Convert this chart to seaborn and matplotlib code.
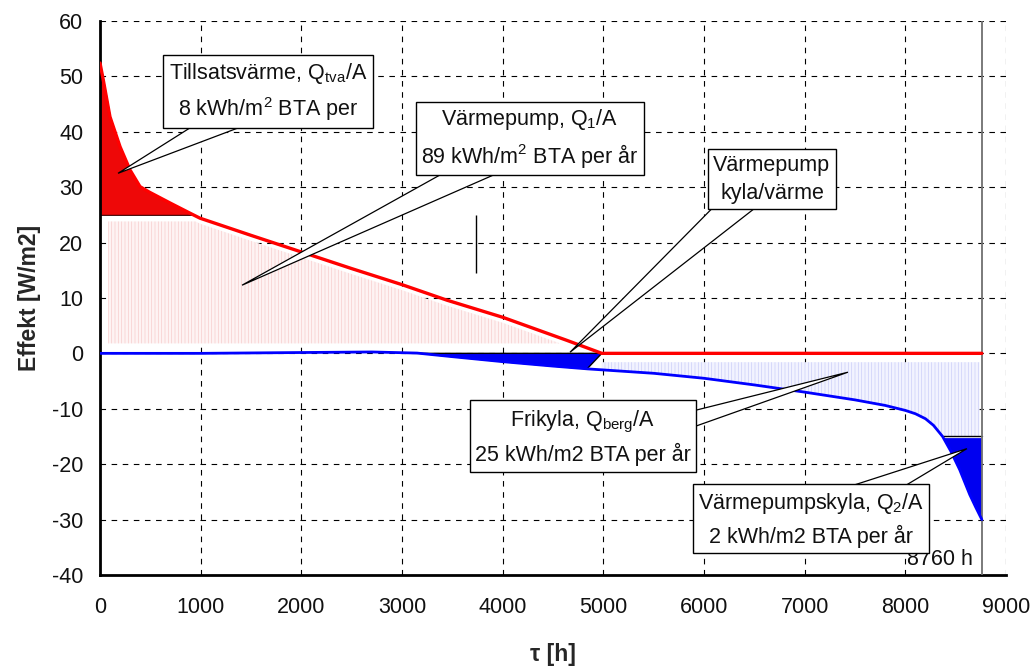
import numpy as np
import pandas as pd
import matplotlib
matplotlib.use("Agg")
import matplotlib.pyplot as plt
import seaborn as sns

# Heating power duration curve (W/m2) vs. hours of the year
heat_hours = [0, 33, 99, 199, 298, 397, 490, 700, 894, 993, 1500, 2000, 2500,
              3000, 3446, 4002, 4637, 4985, 8760]
heat_power = [52.4, 49.3, 42.7, 37.3, 33.1, 30.1, 29.1, 27.1, 25.3, 24.4, 21.3,
              18.3, 15.3, 12.4, 9.6, 6.5, 2.35, 0.0, 0.0]

# Cooling power duration curve (W/m2), negative values
cool_hours = [0, 1000, 2000, 2700, 3150, 3500, 4000, 4500, 4840, 5500, 6000,
              6500, 7000, 7500, 7800, 8000, 8100, 8200, 8280, 8370, 8450, 8540,
              8640, 8700, 8760]
cool_power = [0.0, 0.0, 0.15, 0.25, 0.05, -0.6, -1.5, -2.3, -2.8, -3.6, -4.5,
              -5.7, -7.0, -8.4, -9.4, -10.3, -10.9, -11.8, -13.0, -15.0, -17.6,
              -21.0, -25.5, -27.8, -30.0]

heat_pump_limit = 25.0        # heat pump heating capacity
chiller_limit = -15.0         # free cooling capacity
overlap_start = 3150          # simultaneous heating/cooling begins
overlap_cool_end = 4840       # end of simultaneous cooling
year_hours = 8760
marker_hours = [3735]
marker_span = [14.5, 25.0]

callout_texts = [
    "Tillsatsvärme, Q$_{tva}$/A\n8 kWh/m$^2$ BTA per",
    "Värmepump, Q$_1$/A\n89 kWh/m$^2$ BTA per år",
    "Värmepump\nkyla/värme",
    "Frikyla, Q$_{berg}$/A\n25 kWh/m2 BTA per år",
    "Värmepumpskyla, Q$_2$/A\n2 kWh/m2 BTA per år",
]

sns.set_theme(style="white")
plt.rcParams["font.family"] = ["Liberation Sans", "DejaVu Sans"]
plt.rcParams["mathtext.default"] = "regular"
plt.rcParams["axes.unicode_minus"] = False
plt.rcParams["hatch.linewidth"] = 0.5

heat = pd.DataFrame({"tau": heat_hours, "P": heat_power})
cool = pd.DataFrame({"tau": cool_hours, "P": cool_power})

fig = plt.figure(figsize=(10.32, 6.67), dpi=100)
ax = fig.add_axes([0.0969, 0.138, 0.8779, 0.8306])

# dense grids for the filled areas
xs = np.linspace(0, year_hours, 4000)
hp = np.interp(xs, heat_hours, heat_power)
cp = np.interp(xs, cool_hours, cool_power)

# base load covered by the heat pump (pale hatched)
red_zero = heat_hours[heat_power.index(0.0)]
top_pink = np.minimum(hp - 1.0, heat_pump_limit - 1.2)
mask_pink = (xs >= 80) & (top_pink > 1.8)
ax.fill_between(xs, 1.8, top_pink, where=mask_pink, facecolor="#fef3f3",
                edgecolor="#f8cccc", hatch="|||||", linewidth=0, zorder=1)

# supplementary heat above the heat pump capacity
ax.fill_between(xs, heat_pump_limit, hp, where=hp >= heat_pump_limit,
                interpolate=True, facecolor="#ee0808", edgecolor="#3a0000",
                linewidth=0.8, zorder=2)

# free cooling area (pale hatched blue)
mask_blue = (xs >= red_zero) & (xs <= year_hours - 20)
ax.fill_between(xs, -1.6, np.maximum(cp, chiller_limit), where=mask_blue,
                facecolor="#f2f3ff", edgecolor="#cbcef8", hatch="|||||",
                linewidth=0, zorder=1)

# cooling covered by the heat pump beyond free cooling
mask_dark = cp <= chiller_limit
ax.fill_between(xs, chiller_limit - 0.3, cp, where=mask_dark, interpolate=True,
                facecolor="#0000f0", edgecolor="none", zorder=2)
xd = xs[mask_dark]
ax.plot([xd.min(), year_hours], [chiller_limit, chiller_limit], color="black",
        lw=1.0, zorder=3)

# simultaneous heating and cooling
seg = (xs >= overlap_start) & (xs <= overlap_cool_end)
poly_x = np.concatenate([[overlap_start, red_zero], xs[seg][::-1]])
poly_y = np.concatenate([[0.0, 0.0], cp[seg][::-1]])
ax.fill(poly_x, poly_y, facecolor="#0000f5", edgecolor="black", lw=1.0, zorder=3)

# the two duration curves
sns.lineplot(data=heat, x="tau", y="P", ax=ax, color="#ff0000", lw=2.4,
             zorder=4, estimator=None, sort=False)
sns.lineplot(data=cool, x="tau", y="P", ax=ax, color="#0000ff", lw=2.0,
             zorder=4, estimator=None, sort=False)

ax.vlines(marker_hours, marker_span[0], marker_span[1], color="black", lw=1.0,
          zorder=3)
ax.axvline(year_hours, color="#707070", lw=1.3, zorder=3)
ax.text(year_hours - 90, -37.2, "8760 h", ha="right", va="center",
        fontsize=15.5, color="#111111", zorder=4)

# callouts: (text centre, wedge base points, wedge tip)
callouts = [
    ((1669, 47.2), [(964, 41.5), (1490, 41.5)], (179, 32.5)),
    ((4271, 38.8), [(3506, 33.5), (4073, 33.5)], (1411, 12.3)),
    ((6675, 31.4), [(6099, 26.5), (6526, 26.5)], (4669, 0.2)),
    ((4798, -15.2), [(5800, -10.8), (5800, -13.9)], (7430, -3.4)),
    ((7063, -30.0), [(7281, -25.0), (7897, -25.0)], (8612, -17.2)),
]
for text, ((cx, cy), base, tip) in zip(callout_texts, callouts):
    wx = [base[0][0], tip[0], base[1][0]]
    wy = [base[0][1], tip[1], base[1][1]]
    ax.fill(wx, wy, facecolor="white", edgecolor="black", lw=0.9, zorder=5)
    ax.text(cx, cy, text, ha="center", va="center", fontsize=15.5,
            linespacing=1.45, color="#111111", zorder=6,
            bbox=dict(boxstyle="square,pad=0.25", facecolor="white",
                      edgecolor="black", lw=1.0))

ax.set_xlim(0, 9000)
ax.set_ylim(-40, 60)
ax.set_xticks(np.arange(0, 9001, 1000))
ax.set_yticks(np.arange(-40, 61, 10))
ax.grid(True, color="black", linestyle=(0, (5, 5)), lw=0.8, zorder=0)
ax.set_axisbelow(True)
for side in ("top", "right"):
    ax.spines[side].set_visible(False)
for side in ("left", "bottom"):
    ax.spines[side].set_color("black")
    ax.spines[side].set_linewidth(2.0)
ax.tick_params(axis="both", which="major", direction="out", length=7,
               width=2.0, color="black", labelsize=15.5, labelcolor="#111111")
ax.tick_params(axis="x", pad=9)
ax.tick_params(axis="y", pad=5)
ax.set_xlabel("τ [h]", fontsize=16.5, fontweight="bold", labelpad=18)
ax.set_ylabel("Effekt [W/m2]", fontsize=16.5, fontweight="bold", labelpad=8)

fig.savefig("out.png", dpi=100)
